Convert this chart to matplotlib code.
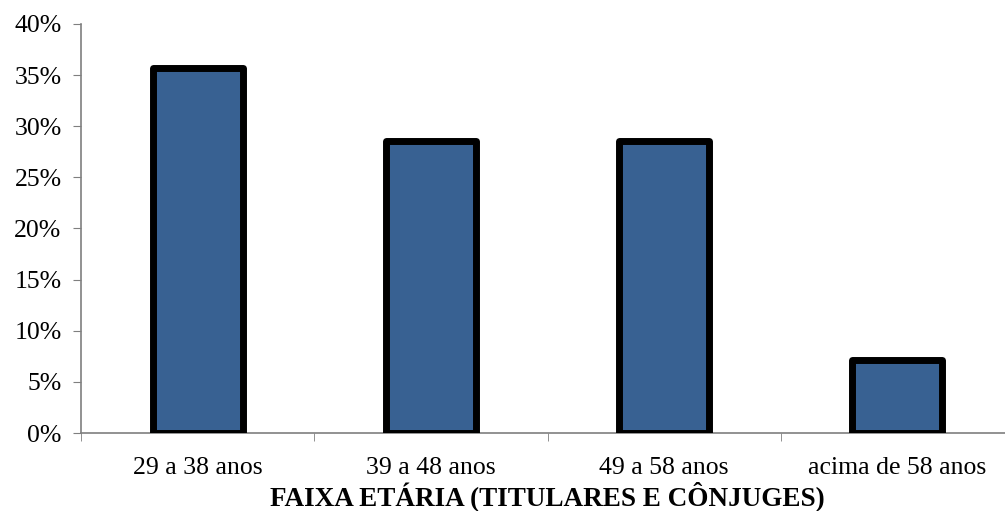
import matplotlib.pyplot as plt
from matplotlib.ticker import PercentFormatter

# faixa etária dos titulares e cônjuges (14 pessoas)
faixas = ['29 a 38 anos', '39 a 48 anos', '49 a 58 anos', 'acima de 58 anos']
percentuais = [0.357, 0.286, 0.286, 0.071]

plt.rcParams['font.family'] = ['Liberation Serif', 'DejaVu Serif']

fig = plt.figure(figsize=(10.05, 5.11), dpi=100)
ax = fig.add_axes([81 / 1005, 78 / 511, 933 / 1005, 409 / 511])

x = range(len(faixas))
ax.bar(x, percentuais, width=0.385, color='#386192', edgecolor='black',
       linewidth=5, joinstyle='round', zorder=3)

ax.set_ylim(0, 0.40)
ax.set_xlim(-0.5, 3.5)
ax.set_yticks([i * 0.05 for i in range(9)])
ax.yaxis.set_major_formatter(PercentFormatter(1.0, decimals=0))
ax.set_xticks(list(x))
ax.set_xticklabels(faixas)
ax.set_xticks([-0.5, 0.5, 1.5, 2.5, 3.5], minor=True)
ax.tick_params(axis='x', which='major', length=0, labelsize=18.5, pad=17)
ax.tick_params(axis='x', which='minor', length=6, color='#7f7f7f', direction='out')
ax.tick_params(axis='y', length=6, color='#7f7f7f', labelsize=18.5, pad=8)

for lado in ['top', 'right']:
    ax.spines[lado].set_visible(False)
for lado in ['left', 'bottom']:
    ax.spines[lado].set_color('#7f7f7f')
    ax.spines[lado].set_linewidth(1.2)

ax.set_xlabel('FAIXA ETÁRIA (TITULARES E CÔNJUGES)', fontsize=19.5,
              fontweight='bold', labelpad=2)

fig.savefig('out.png', dpi=100)
